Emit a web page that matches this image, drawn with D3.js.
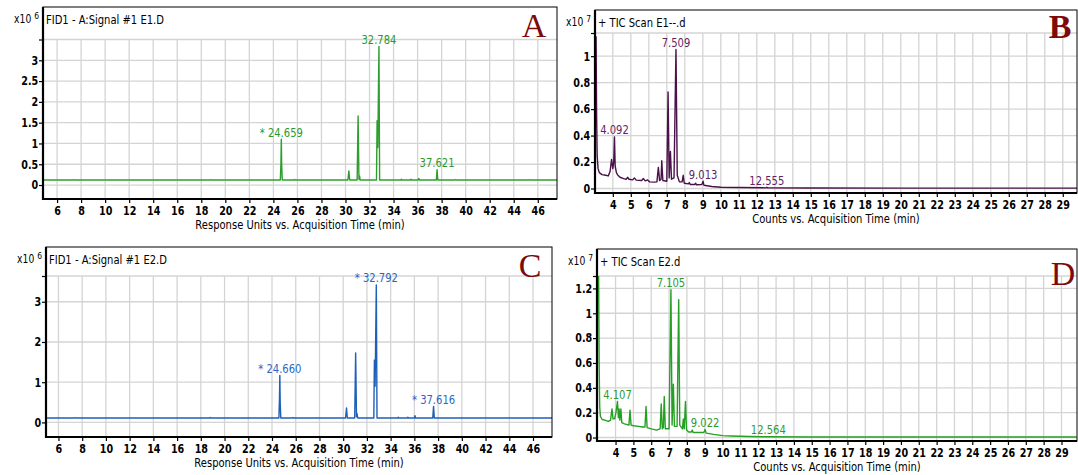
<!DOCTYPE html>
<html>
<head>
<meta charset="utf-8">
<script src="https://cdnjs.cloudflare.com/ajax/libs/d3/7.8.5/d3.min.js"></script>
<style>
  body { margin: 0; background: #fff; }
  svg { display: block; }
</style>
</head>
<body>
<svg id="chart" width="1078" height="475" font-family="DejaVu Sans, Verdana, sans-serif"></svg>
<script>
// tick labels
const fidTicks = [6, 8, 10, 12, 14, 16, 18, 20, 22, 24, 26, 28, 30, 32, 34, 36, 38, 40, 42, 44, 46];
const ticTicks = [4, 5, 6, 7, 8, 9, 10, 11, 12, 13, 14, 15, 16, 17, 18, 19, 20, 21, 22, 23, 24, 25, 26, 27, 28, 29];
const yTicksA = [0, 0.5, 1, 1.5, 2, 2.5, 3];
const yTicksB = [0, 0.2, 0.4, 0.6, 0.8, 1];
const yTicksC = [0, 1, 2, 3];
const yTicksD = [0, 0.2, 0.4, 0.6, 0.8, 1, 1.2];

// traces: [time (min), response]  (A, C: x10^6 ; B, D: x10^7)
const traceA = [
  [4.83, 0.12], [7.35, 0.12], [7.4, 0.13], [7.45, 0.12], [18.75, 0.12], [18.8, 0.13], [18.85, 0.12],
  [24.58, 0.12], [24.63, 0.55], [24.659, 1.10], [24.69, 0.5], [24.74, 0.12],
  [25.7, 0.12], [25.75, 0.135], [25.8, 0.12],
  [30.2, 0.12], [30.28, 0.34], [30.35, 0.12],
  [30.97, 0.12], [31.05, 1.66], [31.12, 0.14], [31.17, 0.22], [31.22, 0.12],
  [32.58, 0.12], [32.63, 1.55], [32.69, 0.9], [32.784, 3.33], [32.84, 0.12],
  [34.6, 0.12], [34.65, 0.14], [34.7, 0.12], [35.4, 0.12], [35.45, 0.14], [35.5, 0.12],
  [36.05, 0.12], [36.1, 0.16], [36.15, 0.12],
  [37.56, 0.12], [37.621, 0.37], [37.68, 0.12],
  [39.1, 0.12], [39.15, 0.13], [39.2, 0.12], [45.3, 0.12], [45.35, 0.13], [45.4, 0.12], [47.6, 0.12]
];
const traceB = [
  [3.07, 1.15], [3.1, 0.55], [3.13, 0.25], [3.18, 0.15], [3.25, 0.12], [3.4, 0.105], [3.6, 0.1],
  [3.75, 0.095], [3.85, 0.13], [3.93, 0.22], [4.0, 0.15], [4.05, 0.2], [4.092, 0.39], [4.13, 0.17],
  [4.2, 0.12], [4.28, 0.1], [4.4, 0.085], [4.6, 0.075], [4.75, 0.07], [4.82, 0.085], [4.9, 0.07],
  [5.1, 0.065], [5.2, 0.08], [5.3, 0.063], [5.6, 0.06], [5.7, 0.075], [5.8, 0.058], [5.93, 0.065],
  [6.05, 0.05], [6.3, 0.048], [6.45, 0.05], [6.53, 0.16], [6.6, 0.06], [6.68, 0.07], [6.72, 0.21],
  [6.78, 0.06], [7.0, 0.055], [7.07, 0.73], [7.13, 0.08], [7.2, 0.28], [7.26, 0.07], [7.4, 0.08],
  [7.509, 1.05], [7.58, 0.1], [7.7, 0.05], [7.85, 0.05], [7.91, 0.1], [7.97, 0.04], [8.2, 0.035],
  [8.25, 0.045], [8.3, 0.03], [8.55, 0.03], [8.6, 0.04], [8.65, 0.028], [8.95, 0.03], [9.013, 0.055],
  [9.06, 0.025], [9.5, 0.015], [10.0, 0.01], [11.0, 0.007], [12.5, 0.005], [12.555, 0.009],
  [12.6, 0.005], [15, 0.004], [20, 0.003], [29.8, 0.003]
];
const traceC = [
  [4.95, 0.11], [7.35, 0.11], [7.4, 0.12], [7.45, 0.11], [18.75, 0.11], [18.8, 0.125], [18.85, 0.11],
  [24.58, 0.11], [24.63, 0.6], [24.66, 1.17], [24.69, 0.5], [24.74, 0.11],
  [25.7, 0.11], [25.75, 0.125], [25.8, 0.11],
  [30.2, 0.11], [30.28, 0.36], [30.35, 0.11],
  [30.97, 0.11], [31.05, 1.73], [31.12, 0.14], [31.17, 0.22], [31.22, 0.11],
  [32.58, 0.11], [32.63, 1.55], [32.69, 0.9], [32.792, 3.42], [32.85, 0.11],
  [34.6, 0.11], [34.65, 0.13], [34.7, 0.11], [35.4, 0.11], [35.45, 0.13], [35.5, 0.11],
  [36.0, 0.11], [36.05, 0.17], [36.1, 0.11],
  [37.55, 0.11], [37.616, 0.4], [37.68, 0.11], [47.6, 0.11]
];
const traceD = [
  [3.05, 1.3], [3.08, 0.6], [3.11, 0.25], [3.15, 0.17], [3.25, 0.145], [3.4, 0.14], [3.6, 0.13],
  [3.72, 0.14], [3.8, 0.23], [3.86, 0.15], [3.95, 0.15], [4.02, 0.2], [4.107, 0.29], [4.16, 0.16],
  [4.2, 0.23], [4.24, 0.14], [4.3, 0.23], [4.35, 0.12], [4.5, 0.11], [4.75, 0.1], [4.81, 0.22],
  [4.87, 0.1], [5.0, 0.095], [5.3, 0.09], [5.5, 0.085], [5.65, 0.085], [5.71, 0.25], [5.77, 0.08],
  [6.0, 0.07], [6.3, 0.06], [6.5, 0.07], [6.56, 0.27], [6.62, 0.07], [6.68, 0.08], [6.73, 0.33],
  [6.79, 0.07], [7.0, 0.07], [7.105, 1.19], [7.17, 0.1], [7.24, 0.43], [7.3, 0.09], [7.45, 0.09],
  [7.54, 1.11], [7.6, 0.1], [7.75, 0.07], [7.8, 0.15], [7.85, 0.07], [7.92, 0.29], [7.98, 0.06],
  [8.1, 0.045], [8.25, 0.045], [8.3, 0.06], [8.35, 0.04], [8.95, 0.04], [9.022, 0.065], [9.08, 0.035],
  [9.5, 0.025], [10.0, 0.015], [10.5, 0.012], [11.5, 0.008], [12.564, 0.006], [15, 0.004], [29.85, 0.004]
];

// peak annotations
const peaksA = ["* 24.659", "32.784", "37.621"];
const peakTimesA = [24.659, 32.784, 37.621];
const peaksB = ["4.092", "7.509", "9.013", "12.555"];
const peakTimesB = [4.092, 7.509, 9.013, 12.555];
const peaksC = ["* 24.660", "* 32.792", "* 37.616"];
const peakTimesC = [24.66, 32.792, 37.616];
const peaksD = ["4.107", "7.105", "9.022", "12.564"];
const peakTimesD = [4.107, 7.105, 9.022, 12.564];

const SX = 0.8; // text in the screenshot is horizontally squashed
const SANS = "DejaVu Sans, Verdana, sans-serif";
const svg = d3.select("#chart");

function txt(g, x, y, str, o = {}) {
  return g.append("text")
    .attr("transform", `translate(${x},${y}) scale(${SX},1)`)
    .attr("text-anchor", o.anchor || "start")
    .style("font-family", SANS)
    .style("font-size", (o.size || 12) + "px")
    .style("font-weight", o.weight || "normal")
    .attr("fill", o.color || "#000")
    .text(str);
}

function drawPanel(p) {
  const g = svg.append("g");
  const x = d3.scaleLinear().domain(p.xDomain).range([p.left, p.right]);
  const y = d3.scaleLinear().domain(p.yDomain).range([p.bottom, p.plotTop]);

  // grid
  g.append("g").selectAll("line").data(p.xTicks).join("line")
    .attr("x1", d => x(d)).attr("x2", d => x(d))
    .attr("y1", p.plotTop).attr("y2", p.bottom)
    .attr("stroke", "#d4d4d4").attr("stroke-width", 1.3);
  g.append("g").selectAll("line").data(p.yTicks.concat([p.yDomain[1]])).join("line")
    .attr("x1", p.left).attr("x2", p.right)
    .attr("y1", d => y(d)).attr("y2", d => y(d))
    .attr("stroke", "#d4d4d4").attr("stroke-width", 1.3);

  // trace
  const clipId = "clip" + p.name;
  g.append("clipPath").attr("id", clipId).append("rect")
    .attr("x", p.left).attr("y", p.top).attr("width", p.right - p.left).attr("height", p.bottom - p.top);
  const line = d3.line().x(d => x(d[0])).y(d => y(d[1]));
  g.append("path").datum(p.trace)
    .attr("clip-path", `url(#${clipId})`)
    .attr("d", line)
    .attr("fill", "none")
    .attr("stroke", p.color)
    .attr("stroke-width", 1.4)
    .attr("stroke-linejoin", "round");

  // peak labels
  p.peakTimes.forEach((t, i) => {
    const top = d3.max(p.trace.filter(d => Math.abs(d[0] - t) < 0.04), d => d[1]);
    txt(g, x(t), y(top) - 2.5, p.peaks[i], {anchor: "middle", size: 12.5, color: p.labelColor});
  });

  // frame
  g.append("rect")
    .attr("x", p.left).attr("y", p.top)
    .attr("width", p.right - p.left).attr("height", p.bottom - p.top)
    .attr("fill", "none").attr("stroke", "#000").attr("stroke-width", 1);
  g.append("path")
    .attr("d", `M${p.left},${p.top}V${p.bottom}H${p.right}`)
    .attr("fill", "none").attr("stroke", "#000").attr("stroke-width", 2.2);

  // axes
  const xAxis = d3.axisBottom(x).tickValues(p.xTicks).tickSize(4).tickPadding(3)
    .tickSizeOuter(0).tickFormat(d3.format("d"));
  const gx = g.append("g").attr("transform", `translate(0,${p.bottom})`).call(xAxis);
  const yAxis = d3.axisLeft(y).tickValues(p.yTicks.concat([p.yDomain[1]])).tickSize(4).tickPadding(2)
    .tickSizeOuter(0).tickFormat(d => d === p.yDomain[1] ? "" : String(d));
  const gy = g.append("g").attr("transform", `translate(${p.left},0)`).call(yAxis);
  [gx, gy].forEach(a => {
    a.select(".domain").remove();
    a.selectAll("line").attr("stroke", "#000").attr("stroke-width", 1.2);
    a.selectAll("text").attr("fill", "#000")
      .style("font-family", SANS).style("font-size", "12px").style("font-weight", "bold")
      .attr("transform", `scale(${SX},1)`);
  });

  // texts
  txt(g, p.left + 3, p.top + 17, p.title, {size: 12.5});
  const ex = txt(g, p.left - 4, p.top + 16, "x10 ", {anchor: "end", size: 11.5});
  ex.append("tspan").attr("dy", -4).style("font-size", "9.5px").text(p.exponent);
  txt(g, (p.left + p.right) / 2, p.bottom + 30, p.xTitle, {anchor: "middle", size: 12.5});
  g.append("text")
    .attr("x", p.letterX).attr("y", p.letterY)
    .attr("text-anchor", "middle")
    .style("font-family", "Liberation Serif, DejaVu Serif, serif")
    .style("font-size", "34px")
    .style("font-weight", p.letterWeight || "normal")
    .attr("fill", "#7d0a0a")
    .text(p.name);
}

drawPanel({
  name: "A", left: 43, right: 557, top: 7, bottom: 199, plotTop: 39.5,
  xDomain: [4.83, 47.6], yDomain: [-0.336, 3.5],
  xTicks: fidTicks, yTicks: yTicksA, trace: traceA,
  peaks: peaksA, peakTimes: peakTimesA,
  color: "#2e9e2e", labelColor: "#2a9a2a",
  title: "FID1 - A:Signal #1 E1.D", exponent: "6",
  xTitle: "Response Units vs. Acquisition Time (min)",
  letterX: 534, letterY: 37
});
drawPanel({
  name: "B", left: 595, right: 1077, top: 10, bottom: 193, plotTop: 33,
  xDomain: [3.01, 29.79], yDomain: [-0.034, 1.175],
  xTicks: ticTicks, yTicks: yTicksB, trace: traceB,
  peaks: peaksB, peakTimes: peakTimesB,
  color: "#4a1048", labelColor: "#5e2466",
  title: "+ TIC Scan E1--.d", exponent: "7",
  xTitle: "Counts vs. Acquisition Time (min)",
  letterX: 1060, letterY: 38, letterWeight: "bold"
});
drawPanel({
  name: "C", left: 46, right: 552, top: 247, bottom: 437, plotTop: 276,
  xDomain: [4.95, 47.6], yDomain: [-0.362, 3.64],
  xTicks: fidTicks, yTicks: yTicksC, trace: traceC,
  peaks: peaksC, peakTimes: peakTimesC,
  color: "#1f5fb8", labelColor: "#2a66c4",
  title: "FID1 - A:Signal #1 E2.D", exponent: "6",
  xTitle: "Response Units vs. Acquisition Time (min)",
  letterX: 530, letterY: 277
});
drawPanel({
  name: "D", left: 597, right: 1077, top: 249, bottom: 441, plotTop: 276,
  xDomain: [2.96, 29.87], yDomain: [-0.028, 1.30],
  xTicks: ticTicks, yTicks: yTicksD, trace: traceD,
  peaks: peaksD, peakTimes: peakTimesD,
  color: "#25a025", labelColor: "#2e9a2e",
  title: "+ TIC Scan E2.d", exponent: "7",
  xTitle: "Counts vs. Acquisition Time (min)",
  letterX: 1063, letterY: 285
});
</script>
</body>
</html>
